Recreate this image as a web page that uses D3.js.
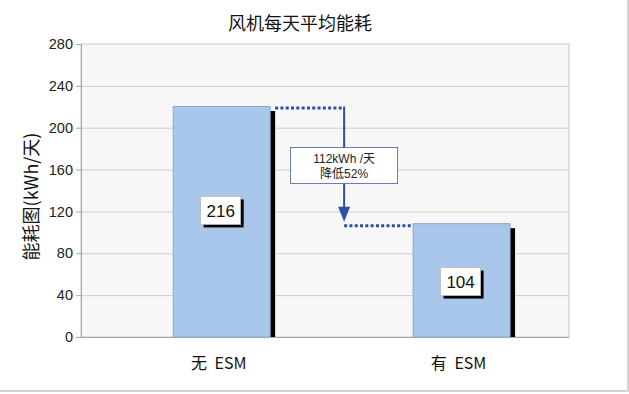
<!DOCTYPE html>
<html>
<head>
<meta charset="utf-8">
<script src="https://cdn.jsdelivr.net/npm/d3@7/dist/d3.min.js"></script>
<style>
  body { margin: 0; background: #fff; }
  text { font-family: "Liberation Sans", Arial, sans-serif; }
  .cjk { font-family: "Noto Sans CJK SC", "Liberation Sans", sans-serif; }
  .note { font-family: "Liberation Sans", "Noto Sans CJK SC", sans-serif; }
</style>
</head>
<body>
<div id="chart"></div>
<script>
var categories = ["无 ESM", "有 ESM"];
var values = [216, 104];
var labelAt = [120, 52];           // where the value boxes sit, in kWh
var yTicks = [0, 40, 80, 120, 160, 200, 240, 280];
var chartTitle = "风机每天平均能耗";
var yAxisLabel = "能耗图(kWh/天)";

var svgWidth = 629;
var svgHeight = 394;

var plot = { left: 81, right: 569, top: 44, bottom: 337 };
var lift = 4.5; // bars are drawn a bit above their shadow

var svg = d3.select("#chart")
  .append("svg")
  .attr("width", svgWidth)
  .attr("height", svgHeight);

// outer frame
svg.append("rect")
  .attr("x", -1).attr("y", -1)
  .attr("width", 629).attr("height", 392)
  .attr("fill", "#fff")
  .attr("stroke", "#c4c4c4")
  .attr("stroke-width", 1.5);

var xScale = d3.scaleBand()
  .domain(categories)
  .range([plot.left, plot.right])
  .paddingInner(0.596)
  .paddingOuter(0.315)
  .align(0.61);

var yScale = d3.scaleLinear()
  .domain([0, 280])
  .range([plot.bottom, plot.top]);

// plot background
svg.append("rect")
  .attr("x", plot.left)
  .attr("y", plot.top)
  .attr("width", plot.right - plot.left)
  .attr("height", plot.bottom - plot.top)
  .attr("fill", "#f7f7f7")
  .attr("stroke", "#c6c6c6");

// grid lines
svg.append("g")
  .selectAll("line")
  .data(yTicks.slice(1, -1))
  .enter()
  .append("line")
  .attr("x1", plot.left)
  .attr("x2", plot.right)
  .attr("y1", d => yScale(d) + 0.5)
  .attr("y2", d => yScale(d) + 0.5)
  .attr("stroke", "#cfcfcf");

var yAxis = d3.axisLeft(yScale)
  .tickValues(yTicks)
  .tickSize(5)
  .tickPadding(3);

var yAxisG = svg.append("g")
  .attr("transform", `translate(${plot.left},0)`)
  .call(yAxis);
yAxisG.select(".domain").attr("stroke", "#a8a8a8");
yAxisG.selectAll(".tick line").attr("stroke", "#a8a8a8");
yAxisG.selectAll(".tick text")
  .attr("fill", "#222")
  .style("font-size", "14.5px");

// bottom axis line
svg.append("line")
  .attr("x1", plot.left)
  .attr("x2", plot.right)
  .attr("y1", plot.bottom + 0.5)
  .attr("y2", plot.bottom + 0.5)
  .attr("stroke", "#a8a8a8");

// bar shadows
svg.selectAll("rect.shadow")
  .data(values)
  .enter()
  .append("rect")
  .attr("class", "shadow")
  .attr("x", (d, i) => xScale(categories[i]) + xScale.bandwidth())
  .attr("y", d => yScale(d))
  .attr("width", 5)
  .attr("height", d => plot.bottom - yScale(d))
  .attr("fill", "#000");

// bars
svg.selectAll("rect.bar")
  .data(values)
  .enter()
  .append("rect")
  .attr("class", "bar")
  .attr("x", (d, i) => xScale(categories[i]))
  .attr("y", d => yScale(d) - lift)
  .attr("width", xScale.bandwidth())
  .attr("height", d => plot.bottom - yScale(d) + lift)
  .attr("fill", "#a9c7ea")
  .attr("stroke", "#8ea8c8")
  .attr("stroke-width", 1);

// value boxes
var valueG = svg.selectAll("g.value")
  .data(values)
  .enter()
  .append("g")
  .attr("class", "value")
  .attr("transform", (d, i) =>
    `translate(${xScale(categories[i]) + xScale.bandwidth() / 2},${yScale(labelAt[i])})`);

valueG.append("rect")
  .attr("x", -18).attr("y", -12)
  .attr("width", 40).attr("height", 28)
  .attr("fill", "#000");
valueG.append("rect")
  .attr("x", -21).attr("y", -15)
  .attr("width", 40).attr("height", 28)
  .attr("fill", "#fff")
  .attr("stroke", "#bbb")
  .attr("stroke-width", 0.8);
valueG.append("text")
  .attr("x", -1)
  .attr("y", 0)
  .attr("text-anchor", "middle")
  .attr("dominant-baseline", "central")
  .attr("fill", "#111")
  .style("font-size", "17px")
  .text(d => d);

// drop annotation
var x1 = xScale(categories[0]) + xScale.bandwidth() + 5;
var x2 = xScale(categories[1]);
var xm = (x1 + x2) / 2;
var yHigh = yScale(values[0]) - lift + 1.5;
var yLow = yScale(values[1]) - lift + 2;
var blue = "#2c4fa3";

svg.append("line")
  .attr("x1", x1).attr("x2", xm)
  .attr("y1", yHigh).attr("y2", yHigh)
  .attr("stroke", blue)
  .attr("stroke-width", 3)
  .attr("stroke-dasharray", "3,2.3");

svg.append("line")
  .attr("x1", xm).attr("x2", x2)
  .attr("y1", yLow).attr("y2", yLow)
  .attr("stroke", blue)
  .attr("stroke-width", 3)
  .attr("stroke-dasharray", "3,2.3");

svg.append("line")
  .attr("x1", xm).attr("x2", xm)
  .attr("y1", yHigh - 1.5).attr("y2", yLow - 15)
  .attr("stroke", blue)
  .attr("stroke-width", 2);

svg.append("path")
  .attr("d", `M${xm - 6},${yLow - 19} L${xm + 6},${yLow - 19} L${xm},${yLow - 4} Z`)
  .attr("fill", blue);

var drop = values[0] - values[1];
var pct = Math.round(drop / values[0] * 100);
var boxY = yScale((values[0] + values[1]) / 2) - 4;

svg.append("rect")
  .attr("x", xm - 53.5)
  .attr("y", boxY - 18)
  .attr("width", 107)
  .attr("height", 36)
  .attr("fill", "#fff")
  .attr("stroke", "#4a5c98")
  .attr("stroke-width", 0.8);

var note = svg.append("text")
  .attr("class", "note")
  .attr("text-anchor", "middle")
  .attr("fill", "#222")
  .style("font-size", "12px");
note.append("tspan")
  .attr("x", xm)
  .attr("y", boxY - 2.5)
  .text(`${drop}kWh /天`);
note.append("tspan")
  .attr("x", xm)
  .attr("dy", 14.5)
  .text(`降低${pct}%`);

// category labels
svg.selectAll("text.cat")
  .data(categories)
  .enter()
  .append("text")
  .attr("class", "cat cjk")
  .attr("x", d => xScale(d) + xScale.bandwidth() / 2 - 3)
  .attr("y", 362)
  .attr("text-anchor", "middle")
  .attr("dominant-baseline", "central")
  .attr("fill", "#111")
  .style("font-size", "16px")
  .style("word-spacing", "4px")
  .text(d => d);

// title
svg.append("text")
  .attr("class", "cjk")
  .attr("x", 300)
  .attr("y", 22)
  .attr("text-anchor", "middle")
  .attr("dominant-baseline", "central")
  .attr("fill", "#111")
  .style("font-size", "18px")
  .text(chartTitle);

// y axis label
svg.append("text")
  .attr("class", "cjk")
  .attr("transform", `translate(30,${(plot.top + plot.bottom) / 2 + 6}) rotate(-90)`)
  .attr("text-anchor", "middle")
  .attr("dominant-baseline", "central")
  .attr("fill", "#111")
  .style("font-size", "18px")
  .text(yAxisLabel);
</script>
</body>
</html>
